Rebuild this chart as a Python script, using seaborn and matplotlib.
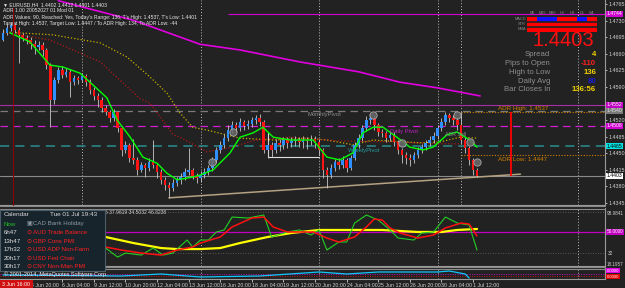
import numpy as np
import pandas as pd
import matplotlib
matplotlib.use("Agg")
import matplotlib.pyplot as plt
from matplotlib.colors import ListedColormap
from matplotlib.lines import Line2D
from matplotlib.patches import Rectangle
import seaborn as sns

# EURUSD H4, bar 0 = 3 Jun 16:00 ... bar 120 = 1 Jul 16:00
first_open = 1.4690
closes = [1.4704, 1.4714, 1.4721, 1.4710, 1.4700, 1.4693, 1.4689, 1.4681, 1.4674, 1.4678,
          1.4668, 1.4636, 1.4562, 1.4605, 1.4626, 1.4615, 1.4622, 1.4600, 1.4609, 1.4605,
          1.4613, 1.4600, 1.4584, 1.4571, 1.4562, 1.4546, 1.4537, 1.4524, 1.4537, 1.4503,
          1.4457, 1.4468, 1.4440, 1.4436, 1.4415, 1.4425, 1.4419, 1.4432, 1.4425, 1.4411,
          1.4394, 1.4383, 1.4377, 1.4388, 1.4394, 1.4400, 1.4411, 1.4415, 1.4402, 1.4398,
          1.4404, 1.4411, 1.4419, 1.4436, 1.4457, 1.4468, 1.4482, 1.4499, 1.4510, 1.4503,
          1.4516, 1.4508, 1.4512, 1.4520, 1.4524, 1.4516, 1.4457, 1.4468, 1.4457, 1.4472,
          1.4468, 1.4478, 1.4472, 1.4476, 1.4478, 1.4474, 1.4478, 1.4476, 1.4480, 1.4474,
          1.4457, 1.4415, 1.4404, 1.4419, 1.4432, 1.4425, 1.4436, 1.4419, 1.4440, 1.4468,
          1.4482, 1.4503, 1.4520, 1.4524, 1.4510, 1.4495, 1.4493, 1.4482, 1.4489, 1.4474,
          1.4457, 1.4446, 1.4440, 1.4436, 1.4446, 1.4457, 1.4463, 1.4472, 1.4478, 1.4486,
          1.4503, 1.4516, 1.4531, 1.4524, 1.4520, 1.4510, 1.4478, 1.4461, 1.4436, 1.4415,
          1.4403]
highs = [1.4712, 1.4722, 1.4728, 1.4725, 1.4716, 1.4704, 1.4700, 1.4695, 1.4688, 1.4686,
         1.4684, 1.4672, 1.4640, 1.4612, 1.4632, 1.4634, 1.4630, 1.4628, 1.4616, 1.4614,
         1.4620, 1.4618, 1.4606, 1.4590, 1.4578, 1.4568, 1.4552, 1.4542, 1.4544, 1.4540,
         1.4508, 1.4476, 1.4472, 1.4480, 1.4442, 1.4432, 1.4430, 1.4440, 1.4478, 1.4430,
         1.4416, 1.4400, 1.4390, 1.4395, 1.4400, 1.4408, 1.4418, 1.4461, 1.4420, 1.4408,
         1.4412, 1.4418, 1.4426, 1.4442, 1.4464, 1.4475, 1.4490, 1.4510, 1.4518, 1.4516,
         1.4524, 1.4520, 1.4520, 1.4526, 1.4530, 1.4532, 1.4520, 1.4476, 1.4474, 1.4480,
         1.4480, 1.4485, 1.4484, 1.4484, 1.4486, 1.4484, 1.4486, 1.4484, 1.4488, 1.4486,
         1.4480, 1.4462, 1.4422, 1.4428, 1.4438, 1.4440, 1.4444, 1.4440, 1.4446, 1.4474,
         1.4490, 1.4510, 1.4528, 1.4532, 1.4530, 1.4514, 1.4502, 1.4498, 1.4496, 1.4494,
         1.4478, 1.4462, 1.4452, 1.4448, 1.4452, 1.4464, 1.4470, 1.4478, 1.4486, 1.4494,
         1.4510, 1.4524, 1.4537, 1.4536, 1.4530, 1.4526, 1.4537, 1.4484, 1.4466, 1.4440,
         1.4420]
lows = [1.4686, 1.4700, 1.4708, 1.4704, 1.4641, 1.4686, 1.4680, 1.4670, 1.4660, 1.4668,
        1.4655, 1.4628, 1.4505, 1.4555, 1.4598, 1.4608, 1.4610, 1.4568, 1.4594, 1.4596,
        1.4600, 1.4592, 1.4576, 1.4562, 1.4548, 1.4538, 1.4530, 1.4515, 1.4518, 1.4495,
        1.4445, 1.4450, 1.4432, 1.4428, 1.4405, 1.4410, 1.4400, 1.4412, 1.4418, 1.4398,
        1.4385, 1.4372, 1.4356, 1.4370, 1.4380, 1.4386, 1.4394, 1.4404, 1.4395, 1.4388,
        1.4390, 1.4398, 1.4405, 1.4412, 1.4430, 1.4450, 1.4462, 1.4476, 1.4492, 1.4494,
        1.4498, 1.4500, 1.4502, 1.4506, 1.4512, 1.4508, 1.4450, 1.4440, 1.4442, 1.4450,
        1.4455, 1.4460, 1.4462, 1.4464, 1.4466, 1.4464, 1.4462, 1.4458, 1.4468, 1.4462,
        1.4446, 1.4398, 1.4377, 1.4398, 1.4412, 1.4416, 1.4418, 1.4410, 1.4414, 1.4435,
        1.4462, 1.4476, 1.4498, 1.4512, 1.4500, 1.4486, 1.4484, 1.4474, 1.4476, 1.4466,
        1.4448, 1.4430, 1.4428, 1.4424, 1.4430, 1.4440, 1.4450, 1.4456, 1.4466, 1.4472,
        1.4480, 1.4498, 1.4510, 1.4515, 1.4510, 1.4500, 1.4470, 1.4450, 1.4425, 1.4405,
        1.4401]

# moving averages
ema_bars = [1.8, 6.8, 11.9, 15.2, 19.5, 22.8, 26.3, 28.9, 32.2, 35.4, 39, 41.5, 44.1, 48.1,
            49.9, 53.2, 57.5, 60, 63.3, 65.8, 68.4, 72.7, 78.5, 82, 85.3, 88.6, 91.1, 93.7,
            96.2, 99.7, 103, 106.3, 108.9, 112.4, 114.9, 118.2, 120]
ema_vals = [1.4704, 1.4685, 1.4636, 1.4632, 1.4619, 1.4594, 1.4567, 1.4520, 1.4484, 1.4442,
            1.4429, 1.4408, 1.4394, 1.4400, 1.4404, 1.4415, 1.4451, 1.4484, 1.4493, 1.4505,
            1.4484, 1.4478, 1.4478, 1.4442, 1.4436, 1.4451, 1.4493, 1.4505, 1.4505, 1.4484,
            1.4463, 1.4457, 1.4463, 1.4489, 1.4495, 1.4478, 1.4463]
ma_yel_bars = [0, 12.5, 24.6, 31.4, 37.2, 41.5, 44.8, 48, 51.6, 60, 68.4, 77, 82, 88.6, 93.7,
               105.6, 110.6, 115.7, 120]
ma_yel_vals = [1.4706, 1.4700, 1.4683, 1.4653, 1.4611, 1.4577, 1.4535, 1.4505, 1.4499, 1.4482,
               1.4478, 1.4482, 1.4478, 1.4468, 1.4478, 1.4472, 1.4474, 1.4484, 1.4482]
ma_red_bars = [0, 4.3, 11.9, 24.6, 34.7, 37.2, 43, 44.8, 49.9, 51.6, 58, 64, 72.7, 85, 100, 110, 120]
ma_red_vals = [1.4705, 1.4700, 1.4689, 1.4643, 1.4565, 1.4556, 1.4490, 1.4484, 1.4461, 1.4453,
               1.4463, 1.4478, 1.4484, 1.4476, 1.4474, 1.4470, 1.4470]
ma_mag_bars = [14, 16.2, 32.9, 49.9, 60, 75, 90, 100.5, 110, 120.8]
ma_mag_vals = [1.4772, 1.4767, 1.4731, 1.4680, 1.4668, 1.4643, 1.4622, 1.4600, 1.4588, 1.4571]

# levels
res_top = 1.4744
pivot_r = 1.4552
monthly_pivot = 1.4540
daily_pivot = 1.4508
weekly_pivot = 1.4465
bid = 1.4403
adr_high = 1.4537
adr_low = 1.4447
trend_bars = [42, 131]
trend_vals = [1.4356, 1.4406]
signal_bars = [52.9, 58.2, 93.7, 101, 114.9, 118.2, 120]
signal_vals = [1.4432, 1.4495, 1.4531, 1.4472, 1.4531, 1.4474, 1.4432]

tick_prices = [1.4765, 1.4730, 1.4695, 1.4660, 1.4625, 1.4590, 1.4520, 1.4485,
               1.4450, 1.4415, 1.4380, 1.4345]
week_lines = [20, 50, 80, 110, 145.6]
today_bar = 116
date_bars = [7, 15, 23, 31, 39, 47, 55, 63, 71, 79, 87, 95, 103, 111, 119]
date_labels = ["4 Jun 20:00", "6 Jun 04:00", "9 Jun 12:00", "10 Jun 20:00", "12 Jun 04:00",
               "13 Jun 12:00", "16 Jun 20:00", "18 Jun 04:00", "19 Jun 12:00", "20 Jun 20:00",
               "24 Jun 04:00", "25 Jun 12:00", "26 Jun 20:00", "30 Jun 04:00", "1 Jul 12:00"]

# oscillator window
osc_green_bars = [24, 26, 29, 31, 35, 38, 40.5, 43, 46.6, 48, 50, 52, 54, 56, 58, 62, 66, 68, 72,
                  75, 78, 80, 82, 85, 87, 89, 92, 95, 98, 100, 104, 106, 109, 112, 115, 118, 120]
osc_green = [40.0, 38.1, 30.0, 33.6, 31.8, 38.1, 31.8, 33.6, 45.3, 39.0, 45.3, 45.3, 52.5, 54.3,
             65.9, 65.0, 67.7, 48.0, 52.5, 54.3, 49.8, 54.3, 36.3, 43.5, 43.5, 60.5, 67.7, 63.2,
             54.3, 47.1, 45.3, 51.6, 52.5, 65.9, 60.5, 58.8, 36.3]
osc_red_bars = [24, 26, 30, 35, 40, 44, 48, 50, 55, 58, 63, 66, 68.4, 72, 75, 78.5, 82, 85, 89,
                92, 94, 96, 98, 100.5, 105, 109, 112, 116, 118, 120]
osc_red = [40.0, 39.0, 36.3, 33.6, 31.8, 36.3, 39.0, 42.6, 48.0, 57.0, 65.0, 65.9, 57.0, 52.5,
           52.5, 52.5, 47.1, 43.5, 48.0, 57.0, 64.1, 63.2, 56.1, 51.6, 47.1, 49.8, 56.1, 60.5,
           59.6, 48.9]
osc_yel_bars = [24, 26, 33, 40, 44, 50, 55, 60, 67, 73, 80, 88, 96, 105, 111, 115, 120]
osc_yel = [48.9, 48.0, 42.6, 38.1, 37.2, 37.2, 38.1, 42.6, 48.0, 51.6, 54.3, 54.3, 54.3, 52.5,
           52.5, 54.3, 55.2]
osc_level = 52.5
osc_dots = [70.4, 33.6]

# bottom window
cyan_bars = [0, 30, 40, 50, 65, 80, 87, 95, 110, 113, 117, 118]
cyan_vals = [4, 3, 5, 2, 3, 7, 5, 7, 7, 8, 5, 1]

# info panel
tf_cols = ["M5", "M15", "M30", "H1", "H4", "D1", "W1"]
tf_rows = ["MACD", "STR", "EMA"]
tf_state = [[0, 1, 1, 0, 0, 1, 0],
            [0, 0, 0, 0, 0, 0, 0],
            [0, 0, 0, 0, 0, 0, 0]]
info_labels = ["Spread", "Pips to Open", "High to Low", "Daily Avg", "Bar Closes In"]
info_values = ["4", "-110", "136", "80", "136:56"]
info_colors = ["#f0d000", "#ff2020", "#f0d000", "#1c1cd8", "#f0d000"]

cal_times = ["Now", "6h47", "13h47", "17h32", "20h17", "30h17"]
cal_events = ["CAD Bank Holiday", "AUD Trade Balance", "GBP Cons PMI", "USD ADP Non-Farm",
              "USD Fed Chair", "CNY Non-Man PMI"]

header = [
    "\u25bc EURUSD,H4  1.4402 1.4412 1.4401 1.4403",
    "ADR 1.00 20052027 01 Mod 01",
    "ADR Values: 90, Reached: Yes, Today's Range: 136, T's High: 1.4537, T's Low: 1.4401",
    "Target High: 1.4537, Target Low: 1.4447 / To ADR High: 134, To ADR Low: -44",
]

BG = "#222222"
GRID = "#bdbdbd"
TXT = "#cfcfcf"
sns.set_theme(style="dark", rc={"axes.facecolor": BG, "figure.facecolor": BG,
                                "axes.edgecolor": "#8a8a8a", "text.color": TXT,
                                "xtick.color": TXT, "ytick.color": TXT})
plt.rcParams["font.family"] = ["Liberation Sans", "DejaVu Sans"]

W, H = 625, 288
RIGHT = 605


def fx(px):
    return px / W


def fy(py):
    return 1 - py / H


def ftext(px, py, s, **kw):
    kw.setdefault("va", "center")
    fig.text(fx(px), fy(py), s, **kw)


fig = plt.figure(figsize=(6.25, 2.88), dpi=100)
ax = fig.add_axes([0, fy(205), fx(RIGHT), 205 / H])
ax_osc = fig.add_axes([0, fy(266), fx(RIGHT), 58 / H], sharex=ax)
ax_low = fig.add_axes([0, fy(279), fx(RIGHT), 11 / H], sharex=ax)

for a in (ax, ax_osc, ax_low):
    a.set_facecolor(BG)
    for side in ("top", "left"):
        a.spines[side].set_visible(False)
    a.spines["right"].set_color("#9a9a9a")
    a.spines["bottom"].set_color("#9a9a9a")
    a.spines["right"].set_linewidth(0.8)
    a.spines["bottom"].set_linewidth(0.8)
    a.grid(False)

ax.set_xlim(-0.76, 152.4)
ax.set_ylim(1.43409, 1.47734)

# candles
bars = pd.DataFrame({"bar": np.arange(len(closes)), "open": [first_open] + closes[:-1],
                     "high": highs, "low": lows, "close": closes})
up = bars["close"] >= bars["open"]
ax.vlines(bars["bar"], bars["low"], bars["high"], color="#c8c8c8", lw=0.6, zorder=3)
body = (bars["close"] - bars["open"]).abs().clip(lower=0.00004)
ax.bar(bars["bar"], body, bottom=bars[["open", "close"]].min(axis=1), width=0.64,
       color=np.where(up, "#2f8fff", "#ff1414"), lw=0, zorder=4)

# moving averages
sns.lineplot(x=ma_mag_bars, y=ma_mag_vals, ax=ax, color="#e000e0", lw=1.2, estimator=None, zorder=2)
sns.lineplot(x=ma_yel_bars, y=ma_yel_vals, ax=ax, color="#c8b000", lw=0.9, ls=(0, (1, 1.6)),
             estimator=None, zorder=2)
sns.lineplot(x=ma_red_bars, y=ma_red_vals, ax=ax, color="#b01818", lw=0.9, ls=(0, (1, 1.6)),
             estimator=None, zorder=2)
sns.lineplot(x=ema_bars, y=ema_vals, ax=ax, color="#00ff00", lw=1.0, estimator=None, zorder=5)

# pivots and levels
ax.hlines(res_top, 57, 152.4, color="#d000d0", lw=0.8, zorder=1)
ax.axhline(pivot_r, color="#a62ea6", lw=0.8, zorder=1)
ax.axhline(monthly_pivot, color="#7a7a7a", lw=0.9, ls=(0, (6, 4)), zorder=1)
ax.axhline(daily_pivot, color="#d01ed0", lw=0.9, ls=(0, (6, 4)), zorder=1)
ax.axhline(weekly_pivot, color="#2a8c8c", lw=1.1, ls=(0, (6, 4)), zorder=1)
ax.axhline(bid, color="#8a8a8a", lw=0.8, zorder=1)
ax.hlines([adr_high, adr_low], today_bar, 152.4, color="#d08000", lw=0.8, ls=(0, (1, 1.5)), zorder=1)
ax.vlines(128.6, bid, adr_high, color="#ff0000", lw=1.3, zorder=6)
ax.plot(trend_bars, trend_vals, color="#b4a282", lw=1.1, zorder=2)
ax.plot([67, 67, 80], [1.4493, 1.4442, 1.4442], color="#e0e0e0", lw=0.8, zorder=2)
sns.scatterplot(x=signal_bars, y=signal_vals, ax=ax, s=28, color="#6a6a6a", edgecolor="#b8b8b8",
                linewidth=0.6, alpha=0.85, zorder=7)

for b in week_lines:
    for a in (ax, ax_osc, ax_low):
        a.axvline(b, color=GRID, lw=0.7, ls=(0, (1, 2)), zorder=0.5)
ax.axvline(today_bar, color=GRID, lw=0.7, ls=(0, (1, 2)), zorder=0.5)

ax.text(77.2, 1.4531, "MonthlyPivot", fontsize=4.2, color="#8c8c8c", va="center", zorder=8)
ax.text(98, 1.4497, "Daily Pivot", fontsize=4.2, color="#c020c0", va="center", zorder=8)
ax.text(87.3, 1.4455, "WeeklyPivot", fontsize=4.2, color="#22a0a0", va="center", zorder=8)
ax.text(112.0, 1.4489, "ADR Sell", fontsize=3.8, color="#8c8c8c", va="center", zorder=8)
ax.text(125.3, 1.4545, "ADR High: 1.4537", fontsize=4.5, color="#d08000", va="center", zorder=8)
ax.text(125.3, 1.4437, "ADR Low: 1.4447", fontsize=4.5, color="#d08000", va="center", zorder=8)

# price axis
ax.yaxis.tick_right()
ax.set_yticks(tick_prices)
ax.set_yticklabels([f"{p:.4f}" for p in tick_prices])
ax.tick_params(axis="y", labelsize=3.9, length=1.5, pad=1.2, colors=TXT, width=0.6)
ax.tick_params(axis="x", bottom=False, labelbottom=False)
ytr = ax.get_yaxis_transform()
for p, s, fc, tc in [(res_top, "1.4744", "#d000d0", "#ffffff"),
                     (pivot_r, "1.4552", "#c000c0", "#ffffff"),
                     (monthly_pivot, "1.4540", "#7a7a7a", "#e0e0e0"),
                     (daily_pivot, "1.4508", "#d000d0", "#ffffff"),
                     (weekly_pivot, "1.4465", "#00e0e0", "#000000"),
                     (bid, "1.4403", "#ffffff", "#000000")]:
    ax.text(1.003, p, s, transform=ytr, fontsize=3.7, color=tc, va="center", ha="left",
            bbox=dict(boxstyle="square,pad=0.1", fc=fc, ec="none"), zorder=10)

# oscillator
ax_osc.set_ylim(22.0, 74.0)
sns.lineplot(x=osc_yel_bars, y=osc_yel, ax=ax_osc, color="#ffff00", lw=1.6, estimator=None, zorder=3)
sns.lineplot(x=osc_green_bars, y=osc_green, ax=ax_osc, color="#22d022", lw=0.8, estimator=None, zorder=4)
sns.lineplot(x=osc_red_bars, y=osc_red, ax=ax_osc, color="#ff1010", lw=1.1, estimator=None, zorder=5)
ax_osc.axhline(osc_level, color="#c000c0", lw=0.9, zorder=2)
for v in osc_dots:
    ax_osc.axhline(v, color="#6a6a6a", lw=0.6, ls=(0, (1, 2)), zorder=1)
ax_osc.set_yticks([])
ax_osc.tick_params(axis="x", bottom=False, labelbottom=False)
otr = ax_osc.get_yaxis_transform()
ax_osc.text(1.003, osc_level, "50.0000", transform=otr, fontsize=3.4, color="#ffffff", va="center",
            bbox=dict(boxstyle="square,pad=0.1", fc="#c000c0", ec="none"))
ax_osc.text(1.005, osc_dots[1], "32", transform=otr, fontsize=3.5, color=TXT, va="center")
ax_osc.text(1.003, 69.5, "98.9841", transform=otr, fontsize=3.3, color=TXT, va="center")

# bottom window
ax_low.set_ylim(0, 11)
ax_low.axhline(5.5, color="#c010c0", lw=0.7, ls=(0, (1, 1.5)))
ax_low.axhline(3, color="#c01010", lw=0.7, ls=(0, (1, 1.5)))
sns.lineplot(x=cyan_bars, y=cyan_vals, ax=ax_low, color="#10c8ff", lw=0.9, estimator=None, zorder=3)
ax_low.set_yticks([])
ax_low.set_xticks(date_bars)
ax_low.set_xticklabels(date_labels, ha="left", fontsize=3.8, color=TXT)
ax_low.tick_params(axis="x", bottom=True, length=2, pad=1.2, width=0.6, colors=TXT)
ltr = ax_low.get_yaxis_transform()
ax_low.text(1.003, 8.5, "0.0000", transform=ltr, fontsize=3.0, color="#ffffff", va="center",
            bbox=dict(boxstyle="square,pad=0.1", fc="#e000e0", ec="none"))
ax_low.text(1.003, 2.5, "0.0000", transform=ltr, fontsize=3.0, color="#ffffff", va="center",
            bbox=dict(boxstyle="square,pad=0.1", fc="#e00000", ec="none"))
ftext(607, 264.0, "18.1957", fontsize=3.3, color=TXT, ha="left")

# panel separators
for py in (206, 208.5, 266.5, 268.5):
    fig.add_artist(Line2D([0, fx(RIGHT)], [fy(py), fy(py)], color="#8a8a8a", lw=0.8))

# header texts top-left
for i, s in enumerate(header):
    ftext(3, [5, 11, 17, 24][i], s, fontsize=3.6, color="#e8e8e8")

# timeframe status grid
ax_hm = fig.add_axes([fx(527), fy(31.5), fx(70), 15 / H])
sns.heatmap(np.array(tf_state), ax=ax_hm, cmap=ListedColormap(["#ff0000", "#1010ff"]), cbar=False,
            xticklabels=tf_cols, yticklabels=tf_rows, vmin=0, vmax=1)
ax_hm.axhline(1, color=BG, lw=1.2)
ax_hm.axhline(2, color=BG, lw=1.2)
ax_hm.xaxis.tick_top()
ax_hm.tick_params(axis="both", length=0, pad=0.8, labelsize=2.8, colors="#8a8a8a")
plt.setp(ax_hm.get_yticklabels(), rotation=0)
plt.setp(ax_hm.get_xticklabels(), rotation=0)

ftext(563, 41, "1.4403", fontsize=14.5, color="#ff1010", ha="center")
for i, (lab, val, col) in enumerate(zip(info_labels, info_values, info_colors)):
    py = 55 + i * 8.7
    ftext(550, py, lab, fontsize=5.6, color="#8e8e8e", ha="right")
    ftext(596, py, val, fontsize=5.6, color=col, ha="right", fontweight="bold")

# calendar box
fig.add_artist(Rectangle((0, fy(271)), fx(105), 61 / H, facecolor="#17242c", edgecolor="#4c5c68",
                         lw=0.8, zorder=5))
ftext(4, 215, "Calendar", fontsize=4.6, color="#d8d8d8", zorder=6)
ftext(50, 215, "Tue 01 Jul 19:43", fontsize=4.6, color="#d8d8d8", zorder=6)
for i, (t, ev) in enumerate(zip(cal_times, cal_events)):
    py = 224 + i * 8.6
    ftext(4, py, t, fontsize=4.4, color="#20c020" if i == 0 else "#e0e0e0", zorder=6)
    ftext(26, py, "\u25a3" if i == 0 else "\u2299", fontsize=4.4,
          color="#8a9aa6" if i == 0 else "#ff2020", zorder=6)
    ftext(33, py, ev, fontsize=4.4, color="#8a9aa6" if i == 0 else "#ff2020", zorder=6)
fig.add_artist(Line2D([fx(13), fx(13)], [fy(205), fy(8)], color="#8b0000", lw=0.8, zorder=7))
ftext(105, 213, "5 37.9619 34.5032 46.8238", fontsize=3.6, color="#cfcfcf")
ftext(4, 274, "\u00a9 2001-2014, MetaQuotes Software Corp.", fontsize=4.0, color="#f0f0f0", zorder=6)
fig.add_artist(Rectangle((0, 0), fx(33), 8.5 / H, facecolor="#d01010", edgecolor="none", zorder=6))
ftext(2, 284, "3 Jun 16:00", fontsize=3.8, color="#ffffff", zorder=7)

fig.savefig("out.png", dpi=100, facecolor=BG)
